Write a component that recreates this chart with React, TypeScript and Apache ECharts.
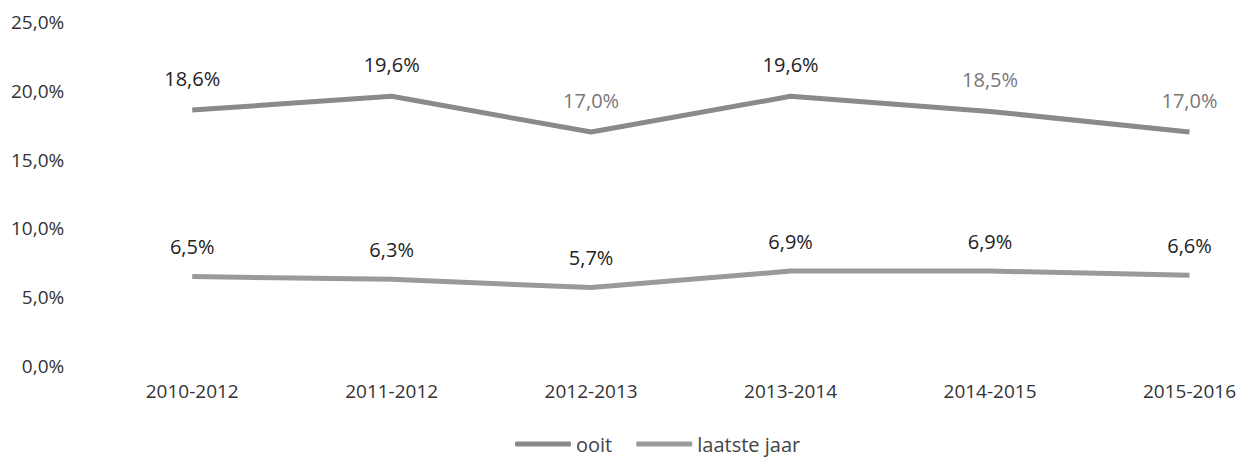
import React, { useEffect, useRef } from "react";
import * as echarts from "echarts";

const categories = ["2010-2012", "2011-2012", "2012-2013", "2013-2014", "2014-2015", "2015-2016"];
const ooit = [18.6, 19.6, 17.0, 19.6, 18.5, 17.0];
const laatsteJaar = [6.5, 6.3, 5.7, 6.9, 6.9, 6.6];
const ooitLabelColors = ["#222", "#222", "#777", "#222", "#777", "#777"];
const yTicks = [0, 5, 10, 15, 20, 25];

const fmt = (v: number) => v.toFixed(1).replace(".", ",") + "%";

export default function App() {
  const ref = useRef<HTMLDivElement>(null);
  useEffect(() => {
    const chart = echarts.init(ref.current!, null, { renderer: "svg" });
    const font = "'Open Sans', sans-serif";
    chart.setOption({
      animation: false,
      textStyle: { fontFamily: font },
      grid: { left: 182, right: 49, top: 14, bottom: 91 },
      legend: {
        top: 426,
        left: 507,
        padding: 0,
        itemWidth: 56,
        itemHeight: 5,
        itemGap: 24,
        textStyle: { fontSize: 20, lineHeight: 20, color: "#444", fontFamily: font },
        data: [
          { name: "ooit", icon: "roundRect" },
          { name: "laatste jaar", icon: "roundRect" },
        ],
      },
      xAxis: {
        type: "category",
        data: categories,
        boundaryGap: false,
        axisLine: { show: false },
        axisTick: { show: false },
        axisLabel: { fontSize: 19, color: "#333", margin: 15, fontFamily: font },
      },
      yAxis: {
        type: "value",
        min: 0,
        max: 25,
        interval: 5,
        splitLine: { show: false },
        axisLine: { show: false },
        axisTick: { show: false },
        axisLabel: {
          fontSize: 19,
          color: "#333",
          margin: 128,
          fontFamily: font,
          formatter: (v: number) => (yTicks.includes(v) ? fmt(v) : ""),
        },
      },
      series: [
        {
          name: "ooit",
          type: "line",
          data: ooit.map((v, i) => ({ value: v, label: { color: ooitLabelColors[i] } })),
          symbol: "circle",
          symbolSize: 0,
          showSymbol: true,
          lineStyle: { width: 5, color: "#8a8a8a" },
          itemStyle: { color: "#8a8a8a" },
          label: { show: true, position: "top", distance: 22, fontSize: 20, fontFamily: font, formatter: (p: any) => fmt(p.value) },
        },
        {
          name: "laatste jaar",
          type: "line",
          data: laatsteJaar,
          symbol: "circle",
          symbolSize: 0,
          showSymbol: true,
          lineStyle: { width: 5, color: "#9a9a9a" },
          itemStyle: { color: "#9a9a9a" },
          label: { show: true, position: "top", distance: 20, fontSize: 20, color: "#222", fontFamily: font, formatter: (p: any) => fmt(p.value) },
        },
      ],
    });
    return () => chart.dispose();
  }, []);
  return <div ref={ref} style={{ width: 1231, height: 449 }} />;
}
